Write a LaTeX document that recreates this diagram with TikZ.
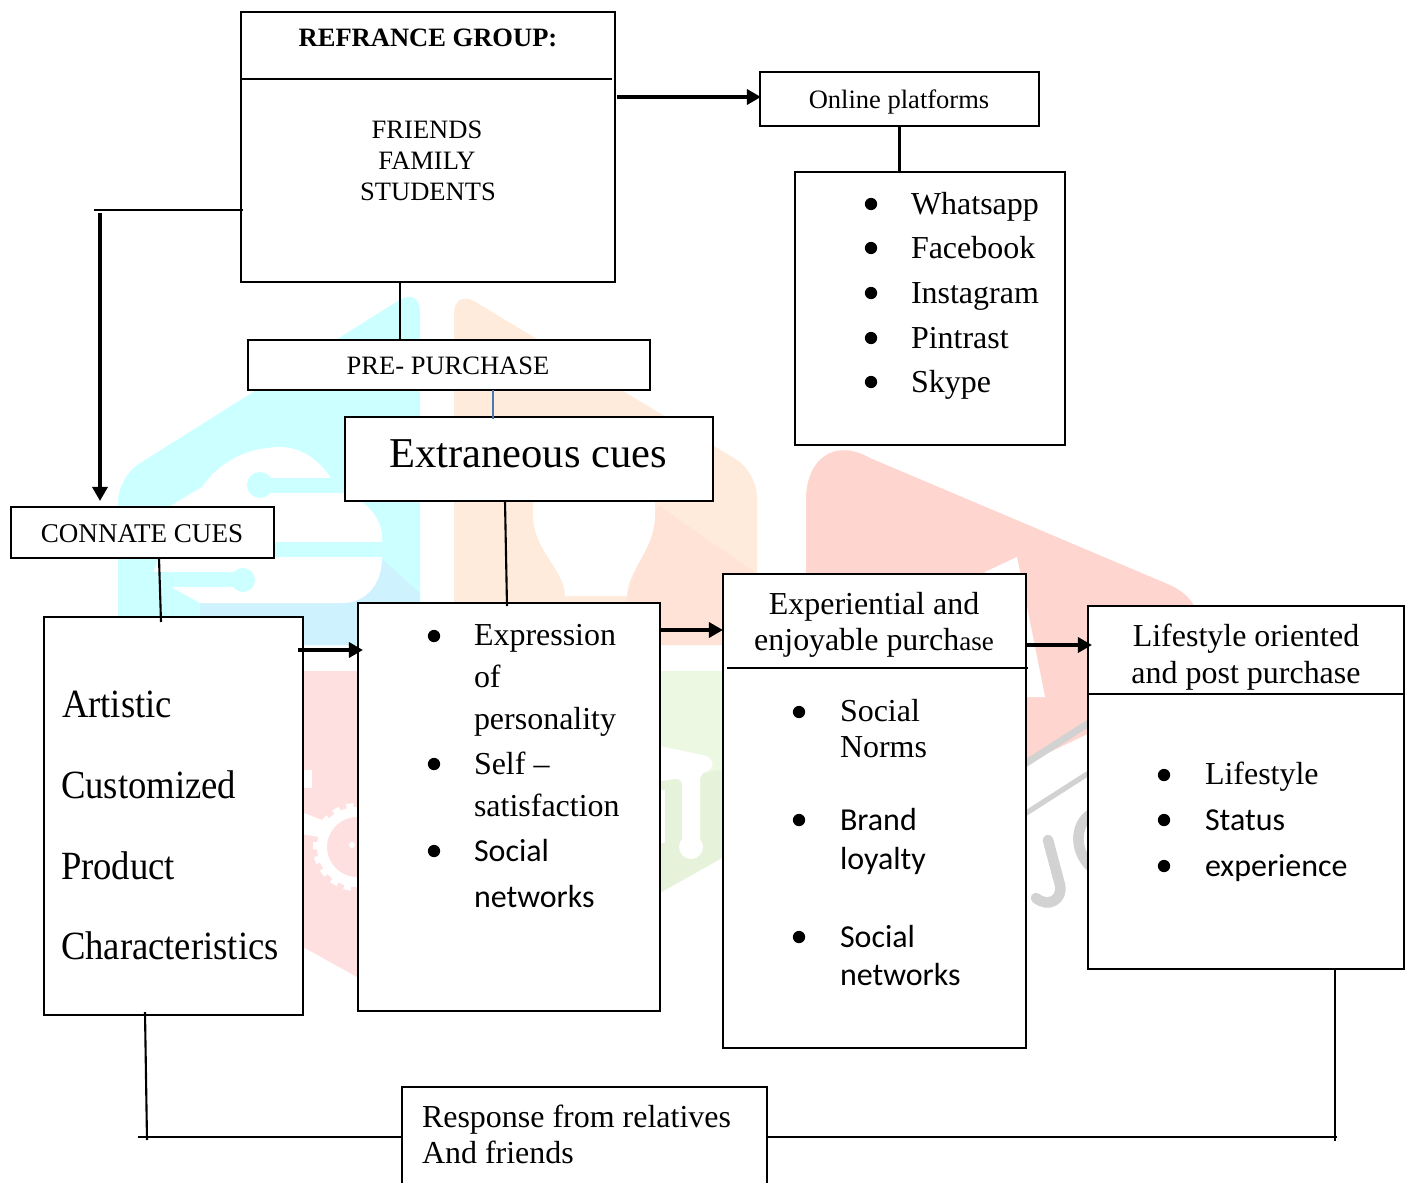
\documentclass[tikz,border=0pt]{standalone}
\usepackage{fontspec}
\setmainfont{Liberation Serif}
\newfontfamily\carlitofont{Carlito}
\usetikzlibrary{arrows.meta}
\definecolor{wmcyan}{HTML}{CCFFFF}
\definecolor{wmcyand}{HTML}{CFF2FF}
\definecolor{wmorange}{HTML}{FFEBDB}
\definecolor{wmoranged}{HTML}{FFE3D6}
\definecolor{wmpink}{HTML}{FFE0E0}
\definecolor{wmred}{HTML}{FFD6CF}
\definecolor{wmgreen}{HTML}{EDF8E2}
\definecolor{wmgreend}{HTML}{E6F3DA}
\definecolor{wmgrey}{HTML}{D2D2D2}
\definecolor{bluelink}{HTML}{4A78B0}
\tikzset{
  px/.style={x=0.02cm,y=-0.02cm},
  boxn/.style={draw=black,fill=white,line width=1.1pt,inner sep=0pt,outer sep=0pt,anchor=north west},
  conn/.style={draw=black,line width=1.2pt},
  arr/.style={draw=black,line width=2pt,-{Triangle[length=8pt,width=8.5pt]}},
  txtbase/.style={inner sep=0pt,outer sep=0pt,text=black},
  sm/.style={txtbase,font=\fontsize{15.1}{15.1}\selectfont},
  md/.style={txtbase,font=\fontsize{18.2}{18.2}\selectfont},
  lg/.style={txtbase,font=\fontsize{22.8}{22.8}\selectfont},
  xl/.style={txtbase,font=\fontsize{24.2}{24.2}\selectfont},
  cond/.style={transform shape,xscale=.915},
  cb/.style={txtbase,font=\carlitofont\fontsize{18.2}{18.2}\selectfont},
  bul/.style={circle,fill=black,draw=none,minimum size=7pt,inner sep=0pt},
}
\newcommand\bx[5]{\node[boxn,minimum width={(#4-#2)*0.02cm},minimum height={(#5-#3)*0.02cm}] (#1) at (#2,#3) {};}
\begin{document}
\begin{tikzpicture}[px]
\useasboundingbox (0,0) rectangle (1407,1183);
\fill[white] (0,0) rectangle (1407,1183);
\clip (0,0) rectangle (1407,1183);
% --- watermark: cyan
\fill[wmcyan,rounded corners=14pt] (118,645) -- (118,477) -- (420,287) -- (420,645) -- cycle;
\fill[wmcyand] (383,560) -- (420,593) -- (420,645) -- (200,645) -- (200,603) -- (343,603) -- cycle;
\fill[white] (172,505) -- (202,487) .. controls (225,455) and (255,447) .. (283,447)
  .. controls (305,449) and (320,462) .. (330,477) -- (345,493)
  .. controls (360,497) and (382,515) .. (382,537) -- (382,558)
  .. controls (382,585) and (365,603) .. (343,603) -- (200,603) -- (173,588) -- (150,580) -- (160,556) -- cycle;
\fill[wmcyan] (267,478) rectangle (345,493);
\fill[wmcyan] (260,485) circle (13);
\fill[wmcyan] (270,542) rectangle (382,557);
\fill[wmcyan] (150,572) rectangle (243,587);
\fill[wmcyan] (243,580) circle (12);
% --- watermark: orange
\fill[wmorange,rounded corners=14pt] (454,645) -- (454,289) -- (757,472) -- (757,645) -- cycle;
\fill[wmoranged] (658,505) -- (756,573) -- (756,645) -- (640,645) -- (627,596) -- cycle;
\fill[white] (533,495) rectangle (655,520);
\fill[white] (533,515) .. controls (533,550) and (565,570) .. (565,596) -- (627,596) .. controls (627,570) and (655,550) .. (655,515) -- cycle;
% --- watermark: pink
\fill[wmpink] (118,671) -- (420,671) -- (420,1000) -- (357,977) -- (303,947) -- (118,947) -- cycle;
\fill[white] (296,770) rectangle (312,788);
\fill[white] (296,810) -- (335,825) -- (325,838) -- (296,833) -- cycle;
\draw[white,line width=5.7pt] (357,847) circle (35);
\draw[white,line width=3.5pt,dash pattern=on 4pt off 4pt] (357,847) circle (41);
\fill[white] (352,845) circle (3);
% --- watermark: green
\fill[wmgreen] (655,671) rectangle (730,800);
\fill[wmgreend] (655,782) -- (730,768) -- (730,855) -- (722,858) -- (660,893) -- (655,895) -- cycle;
\fill[white,rounded corners=4pt] (655,745) -- (712,757) -- (713,770) -- (700,773) -- (700,850) -- (682,850) -- (682,778) -- (655,782) -- cycle;
\fill[white] (691,847) circle (12);
\fill[white] (655,790) rectangle (665,843);
% --- watermark: red
\fill[wmred] (806,780) -- (806,500) .. controls (806,458) and (835,438) .. (870,458)
  -- (1170,585) .. controls (1195,597) and (1200,612) .. (1200,640) -- (1200,680) -- (1027,763) -- cycle;
\fill[white] (985,572) -- (1017,557) -- (1045,697) -- (1000,697) -- cycle;
\draw[wmgrey,line width=4pt] (1020,767) -- (1095,719);
\draw[wmgrey,line width=3pt] (1020,817) -- (1095,769);
\draw[wmgrey,line width=6pt,line cap=round] (1048,840) -- (1060,885) .. controls (1063,900) and (1048,908) .. (1036,898);
\draw[wmgrey,line width=6pt] (1095,812) .. controls (1075,820) and (1072,850) .. (1092,868);
% --- boxes
\bx{refgroup}{241}{12}{615}{282}
\bx{online}{760}{72}{1039}{126}
\bx{platforms}{795}{172}{1065}{445}
\bx{prepurchase}{248}{340}{650}{390}
\bx{extraneous}{345}{417}{713}{501}
\bx{connate}{11}{507}{274}{558}
\bx{artistic}{44}{617}{303}{1015}
\bx{expression}{358}{603}{660}{1011}
\bx{experiential}{723}{574}{1026}{1048}
\bx{lifestyle}{1088}{606}{1404}{969}
\bx{response}{402}{1087}{767}{1200}
% --- named ends
\coordinate (refdivL) at (240,79);
\coordinate (refdivR) at (612,79);
\coordinate (expdivL) at (727,668);
\coordinate (expdivR) at (1028,668);
\coordinate (lifedivL) at (1088,694);
\coordinate (lifedivR) at (1404,694);
\coordinate (refout) at (617,97);
\coordinate (onlinein) at (761,97);
\coordinate (refleft) at (243,210);
\coordinate (leftend) at (94,210);
\coordinate (downstart) at (100,213);
\coordinate (downend) at (100,501);
\coordinate (refbot) at (400,282);
\coordinate (pretop) at (400,340);
\coordinate (prebot) at (493,390);
\coordinate (exttop) at (493,419);
\coordinate (extbot) at (505,501);
\coordinate (exprtop) at (507,606);
\coordinate (conbot) at (159,558);
\coordinate (arttop) at (161,622);
\coordinate (artout) at (298,650);
\coordinate (exprin) at (363,650);
\coordinate (exprout) at (659,630);
\coordinate (expin) at (723,630);
\coordinate (expout) at (1026,645);
\coordinate (lifein) at (1092,645);
\coordinate (artbot) at (145,1012);
\coordinate (artfoot) at (147,1140);
\coordinate (footL) at (138,1137);
\coordinate (respL) at (402,1137);
\coordinate (respR) at (767,1137);
\coordinate (footR) at (1337,1137);
\coordinate (lifebot) at (1335,969);
\coordinate (lifefoot) at (1335,1141);
% --- dividers
\draw[conn] (refdivL) -- (refdivR);
\draw[conn] (expdivL) -- (expdivR);
\draw[conn] (lifedivL) -- (lifedivR);
% --- connectors
\draw[arr] (refout) -- (onlinein);
\draw[conn] (online.south) -- (online.south |- platforms.north);
\draw[conn] (refleft) -- (leftend);
\draw[arr] (downstart) -- (downend);
\draw[conn] (refbot) -- (pretop);
\draw[draw=bluelink,line width=0.8pt] (prebot) -- (exttop);
\draw[conn] (extbot) -- (exprtop);
\draw[conn] (conbot) -- (arttop);
\draw[arr] (artout) -- (exprin);
\draw[arr] (exprout) -- (expin);
\draw[arr] (expout) -- (lifein);
\draw[conn] (artbot) -- (artfoot);
\draw[conn] (footL) -- (respL);
\draw[conn] (respR) -- (footR);
\draw[conn] (lifebot) -- (lifefoot);
% --- texts
\node[sm,anchor=base,font=\fontsize{15.1}{15.1}\selectfont\bfseries] (t1) at (428,47) {REFRANCE GROUP:};
\node[sm,anchor=base] (t2) at (427,138) {FRIENDS};
\node[sm,anchor=base] (t3) at (427,169) {FAMILY};
\node[sm,anchor=base] (t4) at (428,200) {STUDENTS};
\node[sm,anchor=base] (t5) at (899,108) {Online platforms};
\node[sm,anchor=base] (t6) at (448,374) {PRE- PURCHASE};
\node[sm,anchor=base,font=\fontsize{15.4}{15.4}\selectfont] (t7) at (142,542) {CONNATE CUES};
\node[xl,anchor=base] (t8) at (528,467) {Extraneous cues};
\foreach \n/\y in {a/204,b/248,c/293,d/338,e/382}{\node[bul] (bp\n) at (871,\y) {};}
\node[md,anchor=base west] (p1) at (911,214) {Whatsapp};
\node[md,anchor=base west] (p2) at (911,258) {Facebook};
\node[md,anchor=base west] (p3) at (911,303) {Instagram};
\node[md,anchor=base west] (p4) at (911,348) {Pintrast};
\node[md,anchor=base west] (p5) at (911,392) {Skype};
\node[lg,cond,anchor=base west] (a1) at (62,717) {Artistic};
\node[lg,cond,anchor=base west] (a2) at (61,798) {Customized};
\node[lg,cond,anchor=base west] (a3) at (61,879) {Product};
\node[lg,cond,anchor=base west] (a4) at (61,959) {Characteristics};
\foreach \n/\y in {a/636,b/764,c/851}{\node[bul] (be\n) at (434,\y) {};}
\node[md,anchor=base west] (e1) at (474,645) {Expression};
\node[md,anchor=base west] (e2) at (474,687) {of};
\node[md,anchor=base west] (e3) at (474,729) {personality};
\node[md,anchor=base west] (e4) at (474,774) {Self –};
\node[md,anchor=base west] (e5) at (474,816) {satisfaction};
\node[cb,anchor=base west] (e6) at (474,861) {Social};
\node[cb,anchor=base west] (e7) at (474,907) {networks};
\node[md,anchor=base] (x1) at (874,614) {Experiential and};
\node[md,anchor=base] (x2) at (874,650) {enjoyable purch{\fontsize{15.4}{15.4}\selectfont ase}};
\foreach \n/\y in {a/712,b/820,c/937}{\node[bul] (bx\n) at (799,\y) {};}
\node[md,anchor=base west] (x3) at (840,721) {Social};
\node[md,anchor=base west] (x4) at (840,757) {Norms};
\node[cb,anchor=base west] (x5) at (840,830) {Brand};
\node[cb,anchor=base west] (x6) at (840,869) {loyalty};
\node[cb,anchor=base west] (x7) at (840,947) {Social};
\node[cb,anchor=base west] (x8) at (840,985) {networks};
\node[md,anchor=base] (l1) at (1246,646) {Lifestyle oriented};
\node[md,anchor=base] (l2) at (1246,683) {and post purchase};
\foreach \n/\y in {a/775,b/820,c/866}{\node[bul] (bl\n) at (1164,\y) {};}
\node[md,anchor=base west] (l3) at (1205,784) {Lifestyle};
\node[cb,anchor=base west] (l4) at (1205,830) {Status};
\node[cb,anchor=base west] (l5) at (1205,876) {experience};
\node[md,anchor=base west] (r1) at (422,1127) {Response from relatives};
\node[md,anchor=base west] (r2) at (422,1163) {And friends};
\end{tikzpicture}
\end{document}
